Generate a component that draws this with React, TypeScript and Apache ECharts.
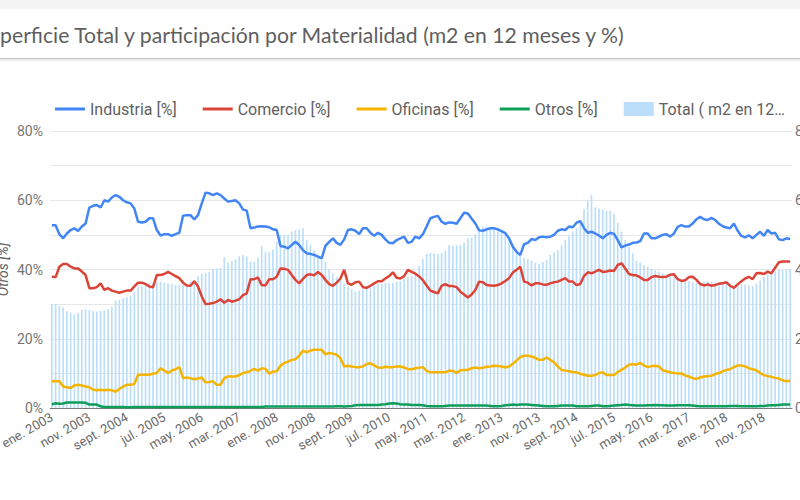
import React, { useEffect, useRef } from 'react';
import * as echarts from 'echarts';

const titleText = 'Superficie Total y participación por Materialidad (m2 en 12 meses y %)';
const monthNames = ['ene.', 'feb.', 'mar.', 'abr.', 'may.', 'jun.', 'jul.', 'ago.', 'sept.', 'oct.', 'nov.', 'dic.'];
const startYear = 2003;

const industria = [
  52.8, 52.8, 50.2, 49.0, 50.4, 51.4, 51.9, 51.1, 52.4, 53.3, 57.9, 58.4, 58.6, 57.9, 60.0, 59.6, 60.8, 61.5, 61.0, 60.0,
  59.4, 59.1, 57.6, 53.8, 53.6, 53.8, 54.8, 54.8, 51.4, 49.8, 50.2, 50.2, 49.7, 50.2, 50.6, 55.5, 55.7, 55.7, 54.5, 55.7,
  59.1, 62.2, 62.0, 61.5, 62.0, 61.5, 60.5, 59.6, 59.8, 60.0,
  59.1, 57.3, 57.0, 51.9, 52.1, 52.4, 52.5, 52.4, 52.2, 51.6, 51.4, 46.8, 46.6, 46.1, 47.1, 48.0, 47.1, 45.6, 44.7, 44.5,
  44.2, 43.7, 43.2, 46.8, 48.0, 49.0, 47.7, 47.1, 48.7, 51.4, 51.6, 51.2, 50.2, 51.9, 51.9, 50.6, 49.7, 50.6, 50.0, 48.7,
  47.7, 47.6, 48.5, 49.0, 49.5, 47.7, 48.0, 49.5, 49.0, 50.2,
  52.4, 54.8, 55.2, 55.5, 53.8, 53.2, 53.6, 53.5, 53.2, 54.8, 56.4, 56.2, 54.7, 53.3, 51.3, 51.2, 51.6, 51.9, 51.9, 51.6,
  51.1, 50.5, 49.0, 46.6, 45.1, 44.2, 47.3, 47.7, 48.8, 48.5, 49.3, 49.5, 49.3, 49.5, 50.0, 51.2, 51.6, 51.4, 52.4, 52.2,
  53.5, 54.0, 51.9, 50.6, 50.9, 50.4, 49.8, 49.0, 50.0,
  50.6, 50.3, 48.5, 46.4, 46.9, 47.2, 47.7, 47.8, 48.2, 50.4, 50.4, 49.0, 49.0, 49.5, 50.0, 50.2, 49.5, 50.4, 52.3, 52.8,
  52.4, 52.4, 53.3, 54.5, 55.2, 54.5, 54.3, 54.9, 54.3, 53.2, 52.5, 52.1, 51.9, 53.3, 51.2, 49.7, 49.3, 49.9, 49.0, 50.0,
  50.9, 49.7, 51.4, 50.4, 50.6, 48.7, 48.5, 49.0, 48.8,
];

const comercio = [
  37.9, 37.8, 40.8, 41.6, 41.6, 40.8, 40.3, 40.3, 39.4, 38.4, 34.6, 34.6, 34.9, 36.0, 34.1, 34.6, 33.9, 33.6, 33.3, 33.6,
  33.9, 33.9, 35.1, 36.2, 36.2, 35.8, 35.1, 34.9, 38.4, 38.4, 38.7, 39.3, 38.7, 38.1, 37.5, 36.2, 35.4, 35.3, 36.6, 35.1,
  32.2, 30.0, 30.1, 30.3, 30.7, 31.4, 30.4, 31.2, 30.7, 31.0,
  31.4, 32.6, 33.1, 37.2, 37.2, 37.7, 35.5, 35.4, 37.2, 37.2, 37.9, 40.3, 40.2, 39.9, 38.4, 37.0, 36.0, 37.3, 38.4, 38.6,
  38.3, 39.3, 38.4, 37.0, 35.8, 35.3, 36.2, 37.4, 39.9, 36.0, 35.6, 36.3, 36.5, 34.9, 34.7, 35.3, 36.0, 36.6, 36.6, 37.4,
  38.1, 39.2, 37.6, 37.4, 38.1, 39.9, 39.3, 38.8, 38.0, 36.9,
  35.4, 33.9, 33.5, 33.1, 35.3, 35.8, 35.2, 35.2, 34.9, 33.6, 32.8, 31.9, 32.8, 34.1, 36.5, 36.3, 35.5, 35.4, 35.3, 35.5,
  36.0, 36.7, 37.5, 39.1, 39.9, 40.8, 36.5, 36.2, 35.4, 36.0, 36.0, 35.7, 35.6, 36.0, 36.3, 36.5, 37.0, 37.5, 36.5, 36.5,
  35.5, 35.8, 38.1, 39.2, 38.9, 39.4, 39.9, 39.3, 39.4,
  39.7, 39.6, 41.3, 41.8, 40.3, 38.7, 38.4, 38.3, 37.7, 37.0, 37.0, 37.8, 38.1, 37.9, 37.8, 37.9, 38.5, 38.6, 37.2, 36.7,
  36.9, 37.8, 37.9, 37.0, 35.8, 35.4, 35.7, 35.3, 35.5, 35.9, 36.0, 36.3, 35.3, 34.7, 35.7, 36.6, 37.4, 37.9, 37.2, 38.9,
  39.0, 38.7, 39.4, 38.9, 40.5, 42.1, 42.3, 42.3, 42.3,
];

const oficinas = [
  7.7, 7.7, 7.7, 6.2, 6.0, 5.8, 6.5, 6.7, 6.5, 6.2, 6.0, 5.3, 5.1, 5.3, 5.1, 5.3, 5.1, 4.7, 5.5, 6.2,
  6.7, 6.7, 6.9, 9.6, 9.6, 9.6, 9.6, 9.9, 10.1, 11.5, 10.8, 10.1, 10.8, 11.2, 11.8, 8.6, 8.8, 8.6, 8.3, 8.5,
  8.8, 7.4, 7.5, 7.7, 6.7, 6.7, 8.6, 9.1, 9.1, 9.1,
  9.5, 10.1, 10.3, 10.7, 11.3, 10.8, 11.5, 11.3, 9.9, 10.5, 10.6, 12.2, 13.0, 13.4, 13.9, 14.1, 15.1, 16.6, 16.1, 16.6,
  16.8, 16.8, 16.8, 15.5, 15.9, 15.7, 15.4, 14.4, 12.0, 12.2, 12.0, 11.8, 11.8, 12.0, 12.7, 12.9, 12.3, 11.7, 11.6, 11.9,
  11.8, 11.8, 12.0, 12.0, 11.7, 11.2, 11.2, 11.5, 11.6, 11.8,
  10.7, 10.3, 10.3, 10.3, 10.3, 10.3, 10.8, 10.7, 10.1, 10.9, 11.0, 11.0, 11.5, 11.7, 11.5, 11.6, 11.9, 12.0, 12.2, 12.1,
  12.0, 11.7, 12.0, 12.8, 13.7, 14.7, 15.1, 15.1, 14.9, 14.5, 13.9, 13.9, 14.6, 13.9, 13.2, 12.0, 11.0, 10.8, 10.6, 10.4,
  10.3, 9.9, 9.6, 9.3, 9.3, 9.5, 10.1, 10.3, 9.5,
  9.5, 9.5, 10.4, 11.0, 11.7, 12.5, 12.7, 12.5, 13.0, 12.3, 11.8, 12.1, 12.2, 12.0, 10.9, 10.6, 10.3, 10.1, 10.0, 10.0,
  9.4, 9.1, 8.6, 8.4, 8.8, 9.1, 9.2, 9.3, 9.8, 10.1, 10.6, 11.0, 11.2, 11.8, 12.3, 12.3, 12.0, 11.5, 11.2, 10.9,
  10.1, 9.5, 9.2, 9.0, 8.7, 8.5, 8.0, 7.7, 7.9,
];

const otros = [
  1.0, 1.4, 1.2, 1.3, 1.6, 1.6, 1.6, 1.6, 1.6, 1.5, 1.0, 1.0, 1.0, 0.5, 0.3, 0.3, 0.3, 0.3, 0.3, 0.3,
  0.2, 0.2, 0.3, 0.3, 0.3, 0.3, 0.3, 0.3, 0.3, 0.3, 0.3, 0.3, 0.3, 0.3, 0.3, 0.3, 0.3, 0.3, 0.3, 0.3,
  0.3, 0.3, 0.3, 0.3, 0.3, 0.3, 0.3, 0.3, 0.3, 0.3,
  0.3, 0.3, 0.3, 0.3, 0.3, 0.3, 0.3, 0.4, 0.4, 0.4, 0.4, 0.4, 0.4, 0.4, 0.4, 0.4, 0.4, 0.4, 0.4, 0.4,
  0.4, 0.4, 0.4, 0.4, 0.4, 0.4, 0.5, 0.5, 0.4, 0.5, 0.6, 0.8, 0.9, 0.9, 0.9, 0.9, 0.9, 0.9, 1.0, 1.1,
  1.3, 1.4, 1.3, 1.1, 1.0, 1.0, 0.9, 0.9, 0.9, 0.8,
  0.6, 0.5, 0.5, 0.5, 0.5, 0.6, 0.7, 0.7, 0.7, 0.7, 0.7, 0.7, 0.7, 0.7, 0.7, 0.7, 0.7, 0.6, 0.5, 0.5,
  0.6, 0.8, 0.9, 1.0, 0.9, 1.0, 1.0, 1.0, 0.9, 0.8, 0.7, 0.6, 0.5, 0.5, 0.5, 0.6, 0.7, 0.7, 0.7, 0.7,
  0.5, 0.5, 0.5, 0.5, 0.6, 0.7, 0.7, 0.5, 0.5,
  0.6, 0.7, 0.8, 0.9, 1.0, 0.9, 0.8, 0.7, 0.7, 0.7, 0.8, 0.8, 0.9, 0.8, 0.8, 0.7, 0.7, 0.7, 0.8, 0.8,
  0.8, 0.8, 0.7, 0.6, 0.5, 0.5, 0.5, 0.5, 0.5, 0.5, 0.5, 0.5, 0.6, 0.6, 0.6, 0.5, 0.5, 0.5, 0.5, 0.5,
  0.6, 0.6, 0.7, 0.8, 0.8, 0.9, 1.0, 1.0, 1.0,
];

// Total surface, millions of m2 (12-month rolling)
const totalMillones = [
  3.00, 3.00, 2.95, 2.90, 2.80, 2.75, 2.70, 2.75, 2.83, 2.85, 2.83, 2.80, 2.78, 2.80, 2.82, 2.85, 2.93, 3.10, 3.12, 3.17,
  3.20, 3.24, 3.35, 3.50, 3.53, 3.58, 3.62, 3.60, 3.65, 3.65, 3.62, 3.60, 3.58, 3.55, 3.55, 3.55, 3.55, 3.65, 3.70, 3.80,
  3.88, 3.90, 3.93, 4.00, 4.03, 4.05, 4.35, 4.20, 4.25, 4.30,
  4.38, 4.42, 4.38, 4.23, 4.23, 4.35, 4.68, 4.50, 4.50, 4.58, 4.80, 5.00, 5.00, 5.00, 5.10, 5.14, 5.16, 5.19, 4.85, 4.70,
  4.55, 4.42, 4.28, 4.23, 4.00, 3.89, 3.79, 3.70, 3.60, 3.51, 3.43, 3.36, 3.39, 3.43, 3.47, 3.51, 3.56, 3.60, 3.58, 3.62,
  3.60, 3.62, 3.65, 3.67, 3.74, 3.79, 3.81, 3.95, 4.10, 4.30,
  4.45, 4.47, 4.47, 4.45, 4.48, 4.55, 4.71, 4.68, 4.70, 4.71, 4.77, 4.90, 4.93, 5.02, 5.20, 5.24, 5.24, 5.23, 5.21, 5.19,
  5.13, 5.06, 4.90, 4.73, 4.53, 4.40, 4.33, 4.30, 4.26, 4.20, 4.16, 4.22, 4.27, 4.43, 4.50, 4.56, 4.70, 4.85, 4.96, 5.10,
  5.20, 5.36, 5.75, 6.00, 6.15, 5.80, 5.76, 5.73, 5.70,
  5.70, 5.60, 5.35, 5.10, 4.85, 4.65, 4.47, 4.25, 4.20, 4.12, 4.08, 4.02, 3.98, 3.94, 3.89, 3.87, 3.82, 3.80, 3.76, 3.71,
  3.67, 3.66, 3.63, 3.62, 3.62, 3.65, 3.66, 3.64, 3.62, 3.60, 3.60, 3.58, 3.56, 3.54, 3.56, 3.58, 3.56, 3.54, 3.52, 3.59,
  3.68, 3.78, 3.86, 3.92, 3.95, 4.00, 3.98, 4.00, 4.00,
];

const categories = industria.map((_, i) => `${monthNames[i % 12]} ${startYear + Math.floor(i / 12)}`);

const seriesNames = ['Industria [%]', 'Comercio [%]', 'Oficinas [%]', 'Otros [%]', 'Total ( m2 en 12 meses)'];
const lineColors = ['#4285f4', '#db4437', '#f4b400', '#0f9d58'];
const lineData = [industria, comercio, oficinas, otros];
const lineIcon = 'path://M0,0L30,0L30,3L0,3Z';

function fmtThousands(v: number): string {
  return Math.round(v).toString().replace(/\B(?=(\d{3})+(?!\d))/g, '.');
}

export default function App() {
  const ref = useRef<HTMLDivElement>(null);
  useEffect(() => {
    if (!ref.current) return;
    const chart = echarts.init(ref.current, undefined, { renderer: 'svg' });
    chart.setOption({
      animation: false,
      textStyle: { fontFamily: 'Roboto' },
      graphic: [
        { type: 'rect', shape: { x: 0, y: 0, width: 800, height: 9 }, style: { fill: '#f4f4f4' }, silent: true },
        { type: 'rect', shape: { x: 0, y: 58, width: 800, height: 1 }, style: { fill: '#c4c4c4' }, silent: true },
        { type: 'rect', shape: { x: 0, y: 59, width: 800, height: 2 }, style: { fill: '#ebebeb' }, silent: true },
        {
          type: 'text',
          x: -23,
          y: 35,
          style: {
            text: titleText,
            fontFamily: 'Lato',
            fontSize: 21.2,
            fill: '#5f5f5f',
            verticalAlign: 'middle',
          },
          silent: true,
        },
      ],
      legend: {
        top: 96,
        left: 50,
        itemWidth: 30,
        itemHeight: 14,
        itemGap: 26,
        symbolKeepAspect: true,
        textStyle: { fontSize: 16, color: '#616161', fontFamily: 'Roboto' },
        data: [
          ...seriesNames.slice(0, 4).map((n) => ({ name: n, icon: lineIcon })),
          { name: seriesNames[4], icon: 'rect' },
        ],
        formatter: (name: string) => (name === seriesNames[4] ? 'Total ( m2 en 12…' : name),
      },
      grid: { left: 50, right: 8, top: 131, bottom: 92, outerBoundsMode: 'none', containLabel: false },
      xAxis: {
        type: 'category',
        data: categories,
        boundaryGap: true,
        axisTick: { show: false },
        axisLine: { lineStyle: { color: '#7a7a7a', width: 1 } },
        axisLabel: { interval: 9, rotate: 30, fontSize: 13, color: '#6a6a6a', margin: 8 },
      },
      yAxis: [
        {
          type: 'value',
          min: 0,
          max: 80,
          interval: 10,
          name: 'Otros [%]',
          nameLocation: 'middle',
          nameGap: 40,
          nameMoveOverlap: false,
          nameTextStyle: { fontStyle: 'italic', fontSize: 14, color: '#616161' },
          axisLine: { show: false },
          axisTick: { show: false },
          splitLine: { lineStyle: { color: '#e6e6e6' } },
          axisLabel: {
            fontSize: 14,
            color: '#757575',
            margin: 7,
            formatter: (v: number) => (v % 20 === 0 ? `${v}%` : ''),
          },
        },
        {
          type: 'value',
          position: 'right',
          min: 0,
          max: 8,
          interval: 1,
          axisLine: { show: false },
          axisTick: { show: false },
          splitLine: { show: false },
          axisLabel: {
            fontSize: 14,
            color: '#757575',
            margin: 3,
            formatter: (v: number) => (v % 2 === 0 ? fmtThousands(v * 1000000) : ''),
          },
        },
      ],
      series: [
        {
          name: seriesNames[4],
          type: 'bar',
          yAxisIndex: 1,
          data: totalMillones,
          barWidth: '45%',
          itemStyle: { color: '#bbdefb' },
        },
        ...lineData.map((d, k) => ({
          name: seriesNames[k],
          type: 'line',
          data: d,
          symbol: 'none',
          smooth: false,
          lineStyle: { width: 2.5, color: lineColors[k] },
          itemStyle: { color: lineColors[k] },
        })),
      ],
    });
    return () => chart.dispose();
  }, []);
  return (
    <div
      ref={ref}
      style={{ position: 'fixed', left: 0, top: 0, width: 800, height: 500, background: '#fff' }}
    />
  );
}
